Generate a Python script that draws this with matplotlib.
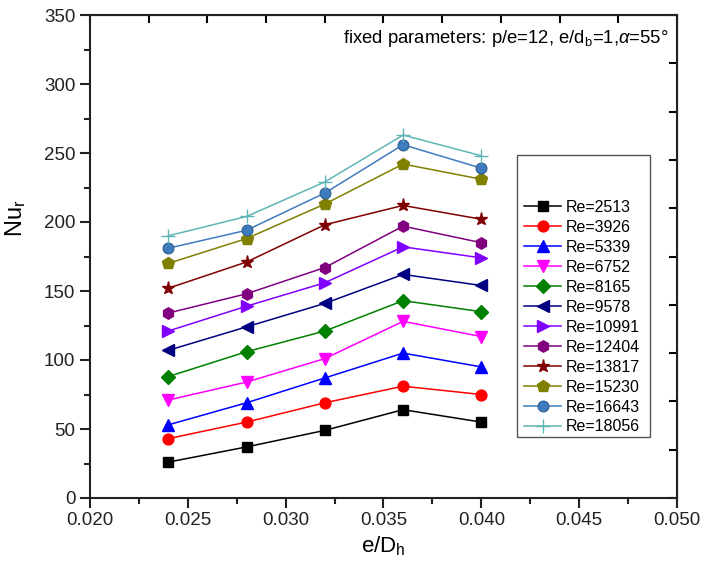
import matplotlib
matplotlib.use("Agg")
import matplotlib.pyplot as plt
import numpy as np
from matplotlib.patches import Rectangle

plt.rcParams['font.family'] = ['Liberation Sans', 'DejaVu Sans']
plt.rcParams['mathtext.fontset'] = 'custom'
plt.rcParams['mathtext.rm'] = 'Liberation Sans'
plt.rcParams['mathtext.it'] = 'Liberation Sans:italic'

e_dh = [0.024, 0.028, 0.032, 0.036, 0.040]

re_labels = ["Re=2513", "Re=3926", "Re=5339", "Re=6752", "Re=8165", "Re=9578",
             "Re=10991", "Re=12404", "Re=13817", "Re=15230", "Re=16643", "Re=18056"]

nu_2513 = [26, 37, 49, 64, 55]
nu_3926 = [43, 55, 69, 81, 75]
nu_5339 = [53, 69, 87, 105, 95]
nu_6752 = [71, 84, 101, 128, 117]
nu_8165 = [88, 106, 121, 143, 135]
nu_9578 = [107, 124, 141, 162, 154]
nu_10991 = [121, 139, 156, 182, 174]
nu_12404 = [134, 148, 167, 197, 185]
nu_13817 = [152, 171, 198, 212, 202]
nu_15230 = [170, 188, 213, 242, 231]
nu_16643 = [181, 194, 221, 256, 239]
nu_18056 = [190, 204, 229, 263, 248]

series = [nu_2513, nu_3926, nu_5339, nu_6752, nu_8165, nu_9578,
          nu_10991, nu_12404, nu_13817, nu_15230, nu_16643, nu_18056]
colors = ['#000000', '#FF0000', '#0000FF', '#FF00FF', '#008000', '#000080',
          '#8000FF', '#800080', '#800000', '#808000', '#3F7CBF', '#5FB5B5']
markers = ['s', 'o', '^', 'v', 'D', '<', '>', 'h', '*', 'p', 'o', '+']
msizes = [6.8, 7.8, 8.2, 8.2, 6.8, 8.2, 8.2, 8.2, 9.5, 8.8, 7.8, 10]

fig = plt.figure(figsize=(7.04, 5.66), dpi=100)
ax = fig.add_axes([90 / 704, 68 / 566, 587 / 704, 483 / 566])

for y, lab, c, m, ms in zip(series, re_labels, colors, markers, msizes):
    kw = dict(markeredgecolor=c, markerfacecolor=c)
    if m == '+':
        kw['markeredgewidth'] = 1.0
    if lab == "Re=16643":
        kw['markeredgecolor'] = '#2B5C8F'
        kw['markeredgewidth'] = 0.8
    ax.plot(e_dh, y, color=c, marker=m, markersize=ms, lw=1.1, label=lab, **kw)

ax.set_xlim(0.020, 0.050)
ax.set_ylim(0, 350)
ax.set_xticks(np.arange(0.020, 0.0501, 0.005))
ax.set_xticks(np.arange(0.0225, 0.050, 0.005), minor=True)
ax.set_yticks(np.arange(0, 351, 50))
ax.set_yticks(np.arange(25, 350, 50), minor=True)
ax.xaxis.set_major_formatter(plt.FormatStrFormatter('%.3f'))
ax.tick_params(which='both', direction='out', width=1.5, labelsize=13.5,
               top=False, right=False, colors='#222222')
ax.tick_params(which='major', length=7)
ax.tick_params(which='minor', length=4)
ax.tick_params(axis='x', pad=3)
for s in ax.spines.values():
    s.set_linewidth(1.5)
    s.set_color('#222222')

# top and right axes with 10 divisions, ticks inside
top = ax.secondary_xaxis('top')
top.set_xticks(np.linspace(0.020, 0.050, 11))
top.tick_params(direction='in', length=6, width=1.5, labeltop=False)
right = ax.secondary_yaxis('right')
right.set_yticks(np.linspace(0, 350, 11))
right.tick_params(direction='in', length=6, width=1.5, labelright=False)

ax.set_xlabel(r"e/D$_\mathrm{h}$", fontsize=16, labelpad=4)
ax.set_ylabel(r"Nu$_\mathrm{r}$", fontsize=17)
ax.yaxis.set_label_coords(-0.105, 0.58)

ax.text(0.985, 0.952, r"fixed parameters: p/e=12, e/d$_\mathrm{b}$=1,$\alpha$=55°",
        transform=ax.transAxes, ha='right', va='center', fontsize=13.3)

ax.add_patch(Rectangle((0.727, 0.126), 0.227, 0.584, transform=ax.transAxes,
                       fill=False, edgecolor='#555555', lw=1.0, zorder=5))
ax.legend(loc='upper left', bbox_to_anchor=(0.74, 0.617), frameon=False,
          fontsize=11.5, handlelength=2.3, handletextpad=0.3,
          labelspacing=0.31, borderpad=0, borderaxespad=0, numpoints=1)

fig.savefig("out.png", dpi=100)
